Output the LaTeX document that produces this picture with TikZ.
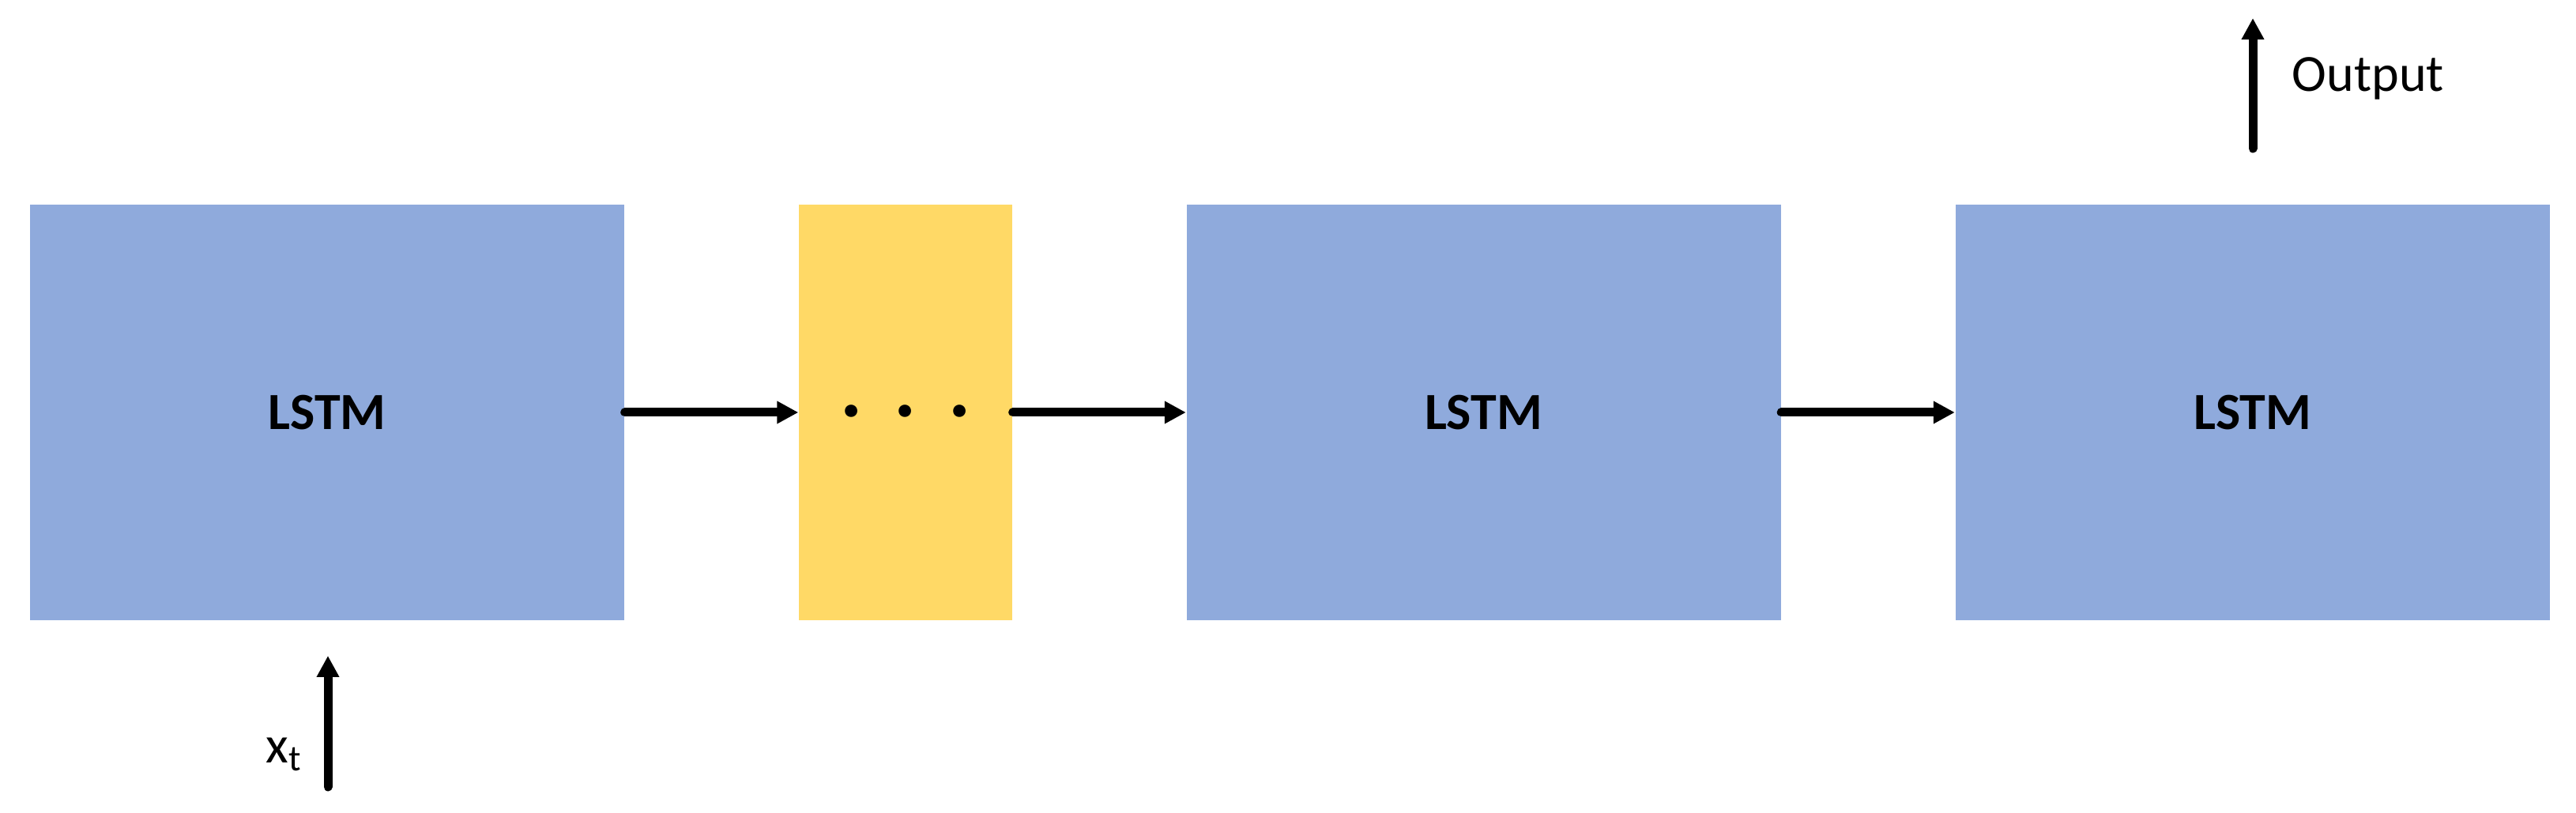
\documentclass[tikz,border=0pt]{standalone}
\usepackage{fontspec}
\setmainfont{Carlito}
\usetikzlibrary{arrows.meta}
\definecolor{lstmblue}{HTML}{8FAADC}
\definecolor{dotyellow}{HTML}{FFD966}
\begin{document}
\begin{tikzpicture}[x=1cm,y=1cm,
  lstm/.style={fill=lstmblue, minimum width=7.52cm, minimum height=5.26cm, inner sep=0pt, font=\fontsize{18.8}{22}\selectfont\bfseries},
  gapbox/.style={fill=dotyellow, minimum width=2.70cm, minimum height=5.26cm, inner sep=0pt},
  conn/.style={line width=0.11cm, line cap=round, -{Triangle[length=0.27cm,width=0.27cm]}},
  lbl/.style={font=\fontsize{18.8}{22}\selectfont, inner sep=0pt}]
\useasboundingbox (0,0) rectangle (32.60,-10.29);
\node[lstm] (l1) at (4.14,-5.22) {LSTM};
\node[gapbox] (g) at (11.46,-5.22) {};
\node[lstm] (l3) at (18.775,-5.22) {LSTM};
\node[lstm] (l4) at (28.505,-5.22) {LSTM};
\node[lbl, font=\fontsize{30}{34}\selectfont\bfseries] (dots) at (11.46,-5.20) {.\hspace{0.40cm}.\hspace{0.40cm}.};
\draw[conn] (l1.east) -- (g.west);
\draw[conn] (g.east) -- (l3.west);
\draw[conn] (l3.east) -- (l4.west);
\coordinate (xin) at (4.15,-9.96);
\coordinate (xtip) at (4.15,-8.30);
\draw[conn] (xin) -- (xtip);
\node[lbl, anchor=base west] (xlbl) at (3.36,-9.66) {x\textsubscript{t}};
\coordinate (oin) at (28.51,-1.88);
\coordinate (otip) at (28.51,-0.23);
\draw[conn] (oin) -- (otip);
\node[lbl, anchor=base west] (olbl) at (29.00,-1.16) {Output};
\end{tikzpicture}
\end{document}
